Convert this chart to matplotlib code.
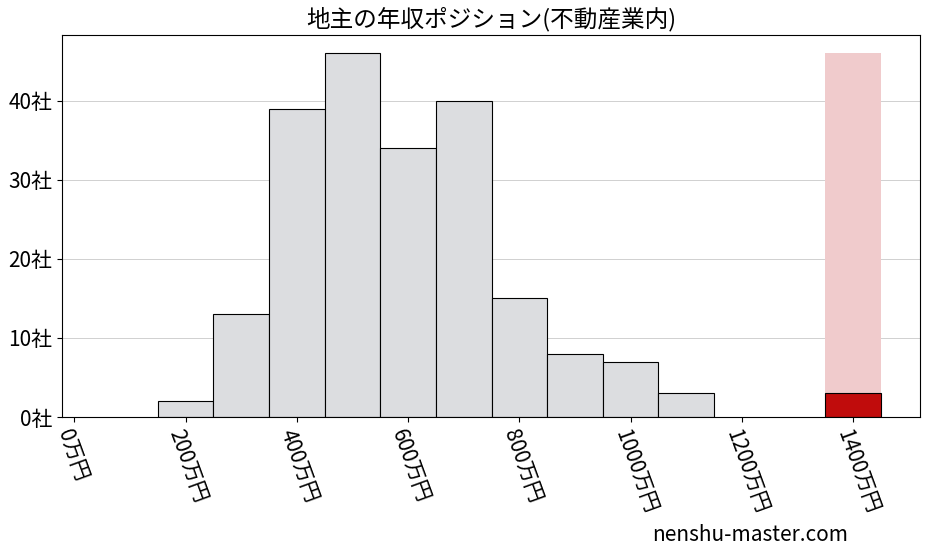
import matplotlib
matplotlib.use("Agg")
import matplotlib.pyplot as plt

plt.rcParams["font.family"] = ["Noto Sans CJK JP", "DejaVu Sans"]

# bin centres (万円) and company counts
centers = [200, 300, 400, 500, 600, 700, 800, 900, 1000, 1100]
counts = [2, 13, 39, 46, 34, 40, 15, 8, 7, 3]
target_center = 1400
target_count = 3
target_bg = 46
ticks = [0, 200, 400, 600, 800, 1000, 1200, 1400]
yticks = [0, 10, 20, 30, 40]

fig = plt.figure(figsize=(9.27, 5.57), dpi=100)
ax = fig.add_axes([62 / 927, 1 - 417 / 557, (920 - 62) / 927, (417 - 35) / 557])
ax.bar(centers, counts, width=100, color="#dcdde0", edgecolor="black", linewidth=0.8, zorder=2)
ax.bar([target_center], [target_bg], width=100, color="#f0cbcc", zorder=1)
ax.bar([target_center], [target_count], width=100, color="#c00c0c", edgecolor="black", linewidth=0.8, zorder=2)
ax.set_xlim(-22, 1520)
ax.set_ylim(0, 48.3)
ax.set_xticks(ticks, [f"{t}万円" for t in ticks], rotation=-70, ha="left",
              rotation_mode="anchor", fontsize=15)
ax.set_yticks(yticks, [f"{t}社" for t in yticks], fontsize=15)
ax.grid(axis="y", color="#d0d0d0", linewidth=0.7, zorder=0)
ax.set_axisbelow(True)
ax.set_title("地主の年収ポジション(不動産業内)", fontsize=17)
fig.text(848 / 927, 0.02, "nenshu-master.com", ha="right", va="bottom", fontsize=15)
fig.savefig("out.png", dpi=100)
